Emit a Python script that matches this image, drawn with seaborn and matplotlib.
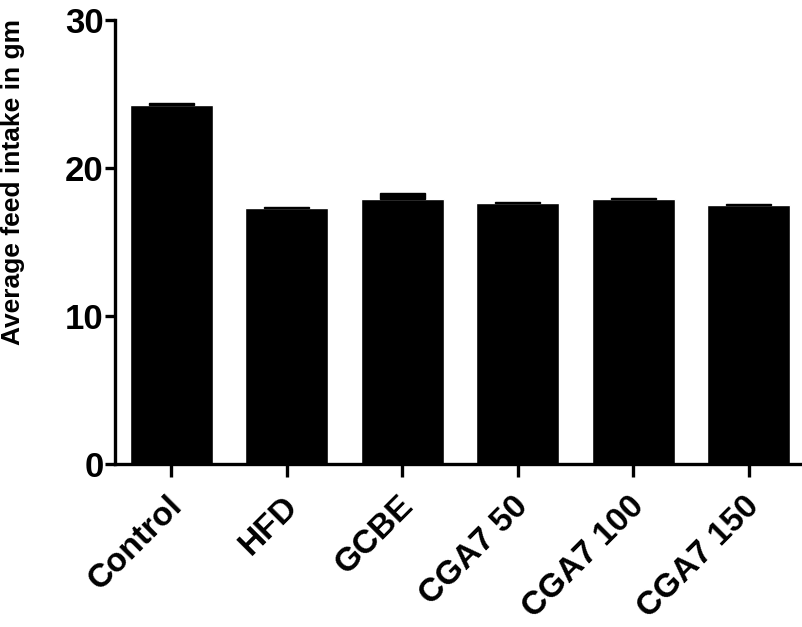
import matplotlib
matplotlib.use("Agg")
import matplotlib.pyplot as plt
import matplotlib.transforms as mtransforms
import seaborn as sns
import pandas as pd

groups = ['Control', 'HFD', 'GCBE', 'CGA7 50', 'CGA7 100', 'CGA7 150']
intake = [24.25, 17.33, 17.93, 17.63, 17.93, 17.48]
sem = [0.12, 0.07, 0.38, 0.1, 0.07, 0.07]

df = pd.DataFrame({'group': groups, 'intake': intake})

sns.set_style('ticks')
plt.rcParams['font.family'] = ['Liberation Sans', 'DejaVu Sans']
plt.rcParams['font.weight'] = 'bold'
plt.rcParams['text.color'] = 'black'
plt.rcParams['axes.labelcolor'] = 'black'
plt.rcParams['xtick.color'] = 'black'
plt.rcParams['ytick.color'] = 'black'
plt.rcParams['axes.edgecolor'] = 'black'

fig = plt.figure(figsize=(8.03, 6.27), dpi=100)
ax = fig.add_axes([0.143, 0.26, 0.857, 0.708])

sns.barplot(data=df, x='group', y='intake', color='black', width=0.72,
            errorbar=None, saturation=1, ax=ax)
# upper SEM shown as a small filled cap on top of each bar
ax.bar(range(len(groups)), sem, bottom=intake, width=0.39, color='black',
       edgecolor='black', linewidth=1)

ax.set_ylim(0, 30)
ax.set_yticks([0, 10, 20, 30])
ax.set_xlim(-0.49, 5.47)
ax.set_xlabel('')
ax.set_ylabel('Average feed intake in gm', fontsize=19, fontweight='bold')
ax.yaxis.set_label_coords(-0.13, 0.635)
ax.tick_params(axis='y', width=2.4, length=7, labelsize=25, pad=1)
ax.tick_params(axis='x', width=2.4, length=9, labelsize=24, pad=10)
ax.set_xticks(range(len(groups)))
ax.set_xticklabels(groups, rotation=45, ha='right', rotation_mode='anchor',
                   fontweight='bold')
shift = mtransforms.ScaledTranslation(-5 / 100, 0, fig.dpi_scale_trans)
for lab in ax.get_xticklabels():
    lab.set_transform(lab.get_transform() + shift)
for lab in ax.get_yticklabels():
    lab.set_fontweight('bold')
for s in ['left', 'bottom']:
    ax.spines[s].set_linewidth(2.4)
sns.despine(ax=ax)

fig.savefig('out.png', dpi=100)
